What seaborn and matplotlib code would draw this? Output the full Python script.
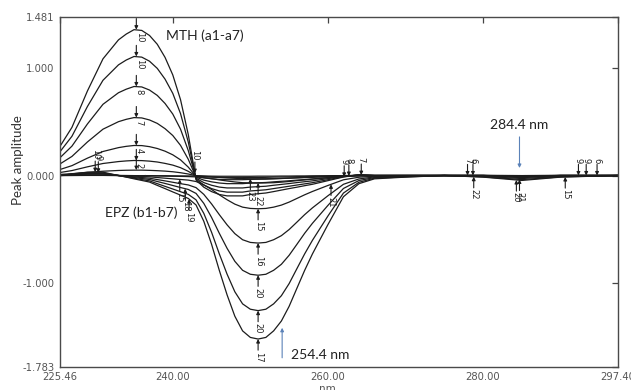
import numpy as np
import pandas as pd
import matplotlib
matplotlib.use("Agg")
import matplotlib.pyplot as plt
import seaborn as sns

# ---------------- data ----------------
wavelength = [225.46, 227, 229, 231, 233, 234, 235, 236, 237, 238, 239, 240, 241, 242,
              243, 244, 245, 246, 247, 248, 249, 250, 251, 252, 253, 254, 255, 256,
              257, 258, 260, 262, 264, 266, 270, 275, 280, 285, 290, 297.40]

mth_a7 = [0.272, 0.449, 0.789, 1.088, 1.265, 1.319, 1.360, 1.353, 1.306, 1.224, 1.102, 0.938, 0.707, 0.381,
          -0.041, -0.109, -0.150, -0.177, -0.190, -0.190, -0.190, -0.177, -0.170, -0.163, -0.150, -0.136, -0.122, -0.109,
          -0.095, -0.082, -0.048, -0.014, 0.007, 0.0, 0.0, 0.0, 0.0, -0.014, 0.0, 0.0]
mth_a6 = [0.222, 0.366, 0.644, 0.888, 1.032, 1.077, 1.110, 1.104, 1.066, 0.999, 0.899, 0.766, 0.577, 0.311,
          -0.033, -0.089, -0.122, -0.144, -0.155, -0.155, -0.155, -0.144, -0.139, -0.133, -0.122, -0.111, -0.100, -0.089,
          -0.078, -0.067, -0.039, -0.011, 0.006, 0.0, 0.0, 0.0, 0.0, -0.011, 0.0, 0.0]
mth_a5 = [0.166, 0.274, 0.481, 0.664, 0.772, 0.805, 0.830, 0.826, 0.797, 0.747, 0.672, 0.573, 0.432, 0.232,
          -0.025, -0.066, -0.091, -0.108, -0.116, -0.116, -0.116, -0.108, -0.104, -0.100, -0.091, -0.083, -0.075, -0.066,
          -0.058, -0.050, -0.029, -0.008, 0.004, 0.0, 0.0, 0.0, 0.0, -0.008, 0.0, 0.0]
mth_a4 = [0.108, 0.178, 0.313, 0.432, 0.502, 0.524, 0.540, 0.537, 0.518, 0.486, 0.437, 0.373, 0.281, 0.151,
          -0.016, -0.043, -0.059, -0.070, -0.076, -0.076, -0.076, -0.070, -0.068, -0.065, -0.059, -0.054, -0.049, -0.043,
          -0.038, -0.032, -0.019, -0.005, 0.003, 0.0, 0.0, 0.0, 0.0, -0.005, 0.0, 0.0]
mth_a3 = [0.056, 0.092, 0.162, 0.224, 0.260, 0.272, 0.280, 0.279, 0.269, 0.252, 0.227, 0.193, 0.146, 0.078,
          -0.008, -0.022, -0.031, -0.036, -0.039, -0.039, -0.039, -0.036, -0.035, -0.034, -0.031, -0.028, -0.025, -0.022,
          -0.020, -0.017, -0.010, -0.003, 0.001, 0.0, 0.0, 0.0, 0.0, -0.003, 0.0, 0.0]
mth_a2 = [0.028, 0.046, 0.081, 0.112, 0.130, 0.136, 0.140, 0.139, 0.134, 0.126, 0.113, 0.097, 0.073, 0.039,
          -0.004, -0.011, -0.015, -0.018, -0.020, -0.020, -0.020, -0.018, -0.018, -0.017, -0.015, -0.014, -0.013, -0.011,
          -0.010, -0.008, -0.005, -0.001, 0.001, 0.0, 0.0, 0.0, 0.0, -0.001, 0.0, 0.0]
mth_a1 = [0.010, 0.017, 0.029, 0.040, 0.047, 0.049, 0.050, 0.050, 0.048, 0.045, 0.041, 0.035, 0.026, 0.014,
          -0.002, -0.004, -0.006, -0.007, -0.007, -0.007, -0.007, -0.007, -0.006, -0.006, -0.006, -0.005, -0.005, -0.004,
          -0.004, -0.003, -0.002, -0.001, 0.0, 0.0, 0.0, 0.0, 0.0, -0.001, 0.0, 0.0]

epz_b7 = [0.0, 0.015, 0.031, 0.031, 0.0, -0.015, -0.031, -0.046, -0.061, -0.092, -0.122, -0.153, -0.183, -0.214,
          -0.275, -0.427, -0.641, -0.885, -1.113, -1.312, -1.449, -1.510, -1.525, -1.510, -1.449, -1.357, -1.220, -1.052,
          -0.885, -0.732, -0.458, -0.198, -0.076, -0.031, -0.015, 0.0, -0.015, -0.046, -0.015, 0.0]
epz_b6 = [0.0, 0.013, 0.025, 0.025, 0.0, -0.013, -0.025, -0.038, -0.050, -0.076, -0.101, -0.126, -0.151, -0.176,
          -0.227, -0.353, -0.529, -0.731, -0.920, -1.084, -1.197, -1.247, -1.260, -1.247, -1.197, -1.121, -1.008, -0.869,
          -0.731, -0.605, -0.378, -0.164, -0.063, -0.025, -0.013, 0.0, -0.013, -0.038, -0.013, 0.0]
epz_b5 = [0.0, 0.009, 0.019, 0.019, 0.0, -0.009, -0.019, -0.028, -0.037, -0.056, -0.074, -0.093, -0.112, -0.130,
          -0.167, -0.260, -0.391, -0.539, -0.679, -0.800, -0.884, -0.921, -0.930, -0.921, -0.884, -0.828, -0.744, -0.642,
          -0.539, -0.446, -0.279, -0.121, -0.047, -0.019, -0.009, 0.0, -0.009, -0.028, -0.009, 0.0]
epz_b4 = [0.0, 0.006, 0.013, 0.013, 0.0, -0.006, -0.013, -0.019, -0.025, -0.038, -0.050, -0.063, -0.076, -0.088,
          -0.113, -0.176, -0.265, -0.365, -0.460, -0.542, -0.599, -0.624, -0.630, -0.624, -0.599, -0.561, -0.504, -0.435,
          -0.365, -0.302, -0.189, -0.082, -0.032, -0.013, -0.006, 0.0, -0.006, -0.019, -0.006, 0.0]
epz_b3 = [0.0, 0.003, 0.006, 0.006, 0.0, -0.003, -0.006, -0.009, -0.012, -0.019, -0.025, -0.031, -0.037, -0.043,
          -0.056, -0.087, -0.130, -0.180, -0.226, -0.267, -0.295, -0.307, -0.310, -0.307, -0.295, -0.276, -0.248, -0.214,
          -0.180, -0.149, -0.093, -0.040, -0.016, -0.006, -0.003, 0.0, -0.003, -0.009, -0.003, 0.0]
epz_b2 = [0.0, 0.001, 0.001, 0.001, 0.0, -0.001, -0.001, -0.002, -0.003, -0.004, -0.006, -0.007, -0.008, -0.010,
          -0.013, -0.020, -0.029, -0.041, -0.051, -0.060, -0.067, -0.069, -0.070, -0.069, -0.067, -0.062, -0.056, -0.048,
          -0.041, -0.034, -0.021, -0.009, -0.004, -0.001, -0.001, 0.0, -0.001, -0.002, -0.001, 0.0]
epz_b1 = [0.0, 0.0, 0.001, 0.001, 0.0, 0.0, -0.001, -0.001, -0.001, -0.002, -0.002, -0.003, -0.004, -0.004,
          -0.005, -0.008, -0.013, -0.017, -0.022, -0.026, -0.029, -0.030, -0.030, -0.030, -0.029, -0.027, -0.024, -0.021,
          -0.017, -0.014, -0.009, -0.004, -0.002, -0.001, 0.0, 0.0, 0.0, -0.001, 0.0, 0.0]

curve_names = ["a1", "a2", "a3", "a4", "a5", "a6", "a7", "b1", "b2", "b3", "b4", "b5", "b6", "b7"]
curve_values = [mth_a1, mth_a2, mth_a3, mth_a4, mth_a5, mth_a6, mth_a7,
                epz_b1, epz_b2, epz_b3, epz_b4, epz_b5, epz_b6, epz_b7]
extremum_labels = ["1", "2", "4", "7", "8", "10", "10",
                   "23", "22", "15", "16", "20", "20", "17"]

# minor peak markers: wavelength, curve, direction, label
minor_wl = [230.0, 230.4, 242.85, 240.9, 241.6, 242.1, 260.4, 262.1, 262.7, 264.3,
            278.0, 278.7, 278.8, 284.3, 284.7, 290.6, 292.3, 293.3, 294.7]
minor_curve = ["b7", "b6", "a7", "b3", "b5", "b7", "b3", "a7", "a6", "a5",
               "a7", "a6", "b7", "b7", "b6", "b7", "a7", "a6", "a5"]
minor_dir = ["down", "down", "down", "up", "up", "up", "up", "down", "down", "down",
             "down", "down", "up", "up", "up", "up", "down", "down", "down"]
minor_label = ["10", "9", "10", "15", "18", "19", "21", "9", "8", "7",
               "7", "6", "22", "20", "21", "15", "9", "9", "6"]

for v in curve_values:
    assert len(v) == len(wavelength)

frames = [pd.DataFrame({"wavelength": wavelength, "amplitude": vals, "curve": name})
          for name, vals in zip(curve_names, curve_values)]
df = pd.concat(frames, ignore_index=True)

# ---------------- plotting ----------------
sns.set_style("white")
plt.rcParams["font.family"] = ["DejaVu Sans"]

fig = plt.figure(figsize=(6.31, 3.90), dpi=100)
ax = fig.add_axes([60 / 631, 1 - 366.7 / 390, (618 - 60) / 631, (366.7 - 16.7) / 390])

sns.lineplot(data=df, x="wavelength", y="amplitude", hue="curve", units="curve",
             estimator=None, palette=["#1c1c1c"] * len(curve_names), linewidth=0.9,
             legend=False, ax=ax, sort=False)

ax.set_xlim(225.46, 297.40)
ax.set_ylim(-1.783, 1.481)
xt = [225.46, 240.0, 260.0, 280.0, 297.40]
yt = [-1.783, -1.0, 0.0, 1.0, 1.481]
ax.set_xticks(xt)
ax.set_xticklabels([f"{v:.2f}" for v in xt])
ax.set_yticks(yt)
ax.set_yticklabels([f"{v:.3f}" for v in yt])
ax.tick_params(direction="in", length=4, width=0.9, top=True, right=True,
               labelsize=7.2, labelcolor="#555555", color="#444444", pad=4)
for s in ax.spines.values():
    s.set_color("#4a4a4a")
    s.set_linewidth(1.0)
ax.set_xlabel("")
ax.set_ylabel("")

fig.text(18 / 631, 1 - 160 / 390, "Peak amplitude", rotation=90, ha="center", va="center",
         fontsize=9.5, color="#333333", family=["Lato", "DejaVu Sans"])
fig.text(327 / 631, 1 - 384 / 390, "nm", ha="center", va="top", fontsize=7.5, color="#555555")

arrow_kw = dict(arrowstyle="-|>", color="#1c1c1c", lw=0.8, mutation_scale=5,
                shrinkA=0, shrinkB=0)


def marker(x, y, direction, label, label_pos):
    dy = 8 if direction == "down" else -8
    ax.annotate("", xy=(x, y), xytext=(0, dy), textcoords="offset points",
                arrowprops=arrow_kw)
    if label_pos == "below_point":
        ax.annotate(label, xy=(x, y), xytext=(2, -2), textcoords="offset points",
                    rotation=-90, ha="center", va="top", fontsize=6, color="#222222")
    elif label_pos == "above":
        ax.annotate(label, xy=(x, y), xytext=(0, dy + 1), textcoords="offset points",
                    rotation=-90, ha="center", va="bottom", fontsize=6, color="#222222")
    else:
        ax.annotate(label, xy=(x, y), xytext=(0, dy - 1), textcoords="offset points",
                    rotation=-90, ha="center", va="top", fontsize=6, color="#222222")


wl = np.array(wavelength)
curves = dict(zip(curve_names, curve_values))
for name, lab in zip(curve_names, extremum_labels):
    vals = np.array(curves[name])
    if name.startswith("a"):
        i = int(np.argmax(vals))
        marker(wl[i] + 0.3, vals[i], "down", lab, "below_point")
    else:
        i = int(np.argmin(vals))
        marker(wl[i], vals[i], "up", lab, "below")

for x, c, d, lab in zip(minor_wl, minor_curve, minor_dir, minor_label):
    y = float(np.interp(x, wl, curves[c]))
    marker(x, y, d, lab, "above" if d == "down" else "below")

txt_kw = dict(fontsize=10, color="#222222", family=["Lato", "DejaVu Sans"])
ax.text(239.1, 1.30, "MTH (a1-a7)", ha="left", va="center", **txt_kw)
ax.text(231.3, -0.35, "EPZ (b1-b7)", ha="left", va="center", **txt_kw)
ax.text(280.9, 0.47, "284.4 nm", ha="left", va="center", **txt_kw)
ax.text(255.2, -1.67, "254.4 nm", ha="left", va="center", **txt_kw)

blue_kw = dict(arrowstyle="-|>", color="#5b82b8", lw=0.8, mutation_scale=5, shrinkA=0, shrinkB=0)
ax.annotate("", xy=(284.7, 0.07), xytext=(284.7, 0.36), arrowprops=blue_kw)
ax.annotate("", xy=(254.1, -1.42), xytext=(254.1, -1.70), arrowprops=blue_kw)

fig.savefig("out.png", dpi=100)
